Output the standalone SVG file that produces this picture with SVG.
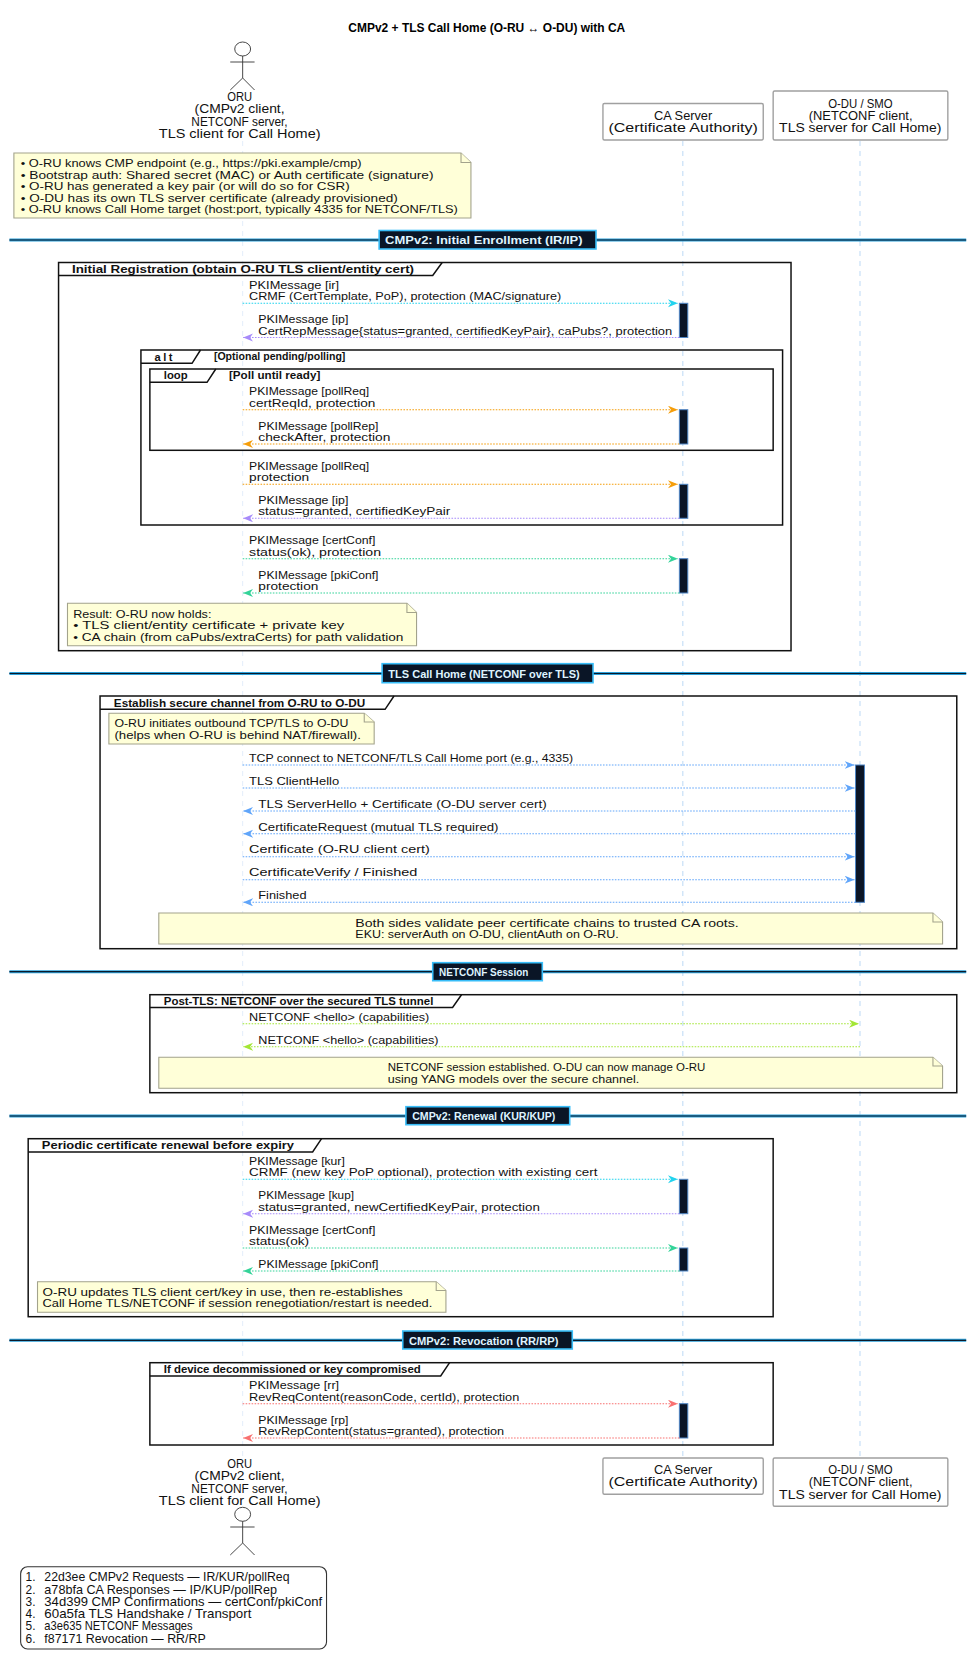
<svg xmlns="http://www.w3.org/2000/svg" width="980" height="1673" viewBox="0 0 980 1673">
<style>
text{font-family:"Liberation Sans",Arial,sans-serif;font-size:11.2px;fill:#111}
.b{font-weight:bold}
.t{font-size:12px;font-weight:bold;fill:#000}
.s{font-size:10px;font-weight:bold}
.p{font-size:12px}
.d{font-weight:bold;font-size:11.5px;fill:#dff3ff}
.life{fill:none;stroke:#bcd9f5;stroke-width:1;stroke-dasharray:5 5}
.frame{fill:none;stroke:#111;stroke-width:1.5}
.note{fill:#ffffd8;stroke:#a3a38c;stroke-width:1.1}
.box{fill:#fff;stroke:#a0a0a0;stroke-width:1.4}
.act{fill:#0b1526;stroke:#4f86c6;stroke-width:1}
.actor{fill:none;stroke:#333;stroke-width:.9}
.rule{stroke:#2b9fd8;stroke-width:3}
.core{stroke:#0b1a2a;stroke-width:1.2}
.lab{fill:#0a1526;stroke:#38bdf8;stroke-width:1.6}
.m{fill:none;stroke-width:1.1;stroke-dasharray:1.6 1.4}
.c1{stroke:#22d3ee}.c2{stroke:#a78bfa}.c3{stroke:#34d399}.c4{stroke:#60a5fa}.c5{stroke:#a3e635}.c6{stroke:#f87171}.c7{stroke:#f59e0b}
</style>
<defs>
<marker id="h1" markerUnits="userSpaceOnUse" markerWidth="11" markerHeight="9" refX="10" refY="4" orient="auto"><path d="M0 0L10 4L0 8L3 4Z" fill="#22d3ee"/></marker>
<marker id="h2" markerUnits="userSpaceOnUse" markerWidth="11" markerHeight="9" refX="10" refY="4" orient="auto"><path d="M0 0L10 4L0 8L3 4Z" fill="#a78bfa"/></marker>
<marker id="h3" markerUnits="userSpaceOnUse" markerWidth="11" markerHeight="9" refX="10" refY="4" orient="auto"><path d="M0 0L10 4L0 8L3 4Z" fill="#34d399"/></marker>
<marker id="h4" markerUnits="userSpaceOnUse" markerWidth="11" markerHeight="9" refX="10" refY="4" orient="auto"><path d="M0 0L10 4L0 8L3 4Z" fill="#60a5fa"/></marker>
<marker id="h5" markerUnits="userSpaceOnUse" markerWidth="11" markerHeight="9" refX="10" refY="4" orient="auto"><path d="M0 0L10 4L0 8L3 4Z" fill="#a3e635"/></marker>
<marker id="h6" markerUnits="userSpaceOnUse" markerWidth="11" markerHeight="9" refX="10" refY="4" orient="auto"><path d="M0 0L10 4L0 8L3 4Z" fill="#f87171"/></marker>
<marker id="h7" markerUnits="userSpaceOnUse" markerWidth="11" markerHeight="9" refX="10" refY="4" orient="auto"><path d="M0 0L10 4L0 8L3 4Z" fill="#f59e0b"/></marker>
</defs>
<rect width="980" height="1673" fill="#fff"/>
<g id="diagram" transform="scale(0.9925 1)">
<text id="title" class="t" x="351" y="32" textLength="279" lengthAdjust="spacingAndGlyphs">CMPv2 + TLS Call Home (O-RU ↔ O-DU) with CA</text>

<g id="lifelines">
<line class="life" x1="244.5" y1="141" x2="244.5" y2="1458" style="stroke:#e3eefa"/>
<line class="life" x1="688" y1="141" x2="688" y2="1458"/>
<line class="life" x1="866.5" y1="141" x2="866.5" y2="1458"/>
</g>

<g id="dividers">
<g id="div1"><line class="rule" x1="9.5" y1="240" x2="973.5" y2="240"/><line class="core" x1="9.5" y1="240" x2="973.5" y2="240"/><rect class="lab" x="382" y="230.5" width="218.5" height="18.5"/><text class="d" x="388" y="244.2" textLength="199" lengthAdjust="spacingAndGlyphs">CMPv2: Initial Enrollment (IR/IP)</text></g>
<g id="div2"><line class="rule" x1="9.5" y1="673.5" x2="973.5" y2="673.5"/><line class="core" x1="9.5" y1="673.5" x2="973.5" y2="673.5"/><rect class="lab" x="385" y="663.7" width="212.5" height="19"/><text class="d" x="391.3" y="677.6" textLength="192.8" lengthAdjust="spacingAndGlyphs">TLS Call Home (NETCONF over TLS)</text></g>
<g id="div3"><line class="rule" x1="9.5" y1="971.7" x2="973.5" y2="971.7"/><line class="core" x1="9.5" y1="971.7" x2="973.5" y2="971.7"/><rect class="lab" x="436" y="962.7" width="110.4" height="18"/><text class="d" x="442.4" y="976" textLength="90" lengthAdjust="spacingAndGlyphs">NETCONF Session</text></g>
<g id="div4"><line class="rule" x1="9.5" y1="1116" x2="973.5" y2="1116"/><line class="core" x1="9.5" y1="1116" x2="973.5" y2="1116"/><rect class="lab" x="409" y="1106.7" width="165" height="18"/><text class="d" x="415.3" y="1120.2" textLength="144.3" lengthAdjust="spacingAndGlyphs">CMPv2: Renewal (KUR/KUP)</text></g>
<g id="div5"><line class="rule" x1="9.5" y1="1340.3" x2="973.5" y2="1340.3"/><line class="core" x1="9.5" y1="1340.3" x2="973.5" y2="1340.3"/><rect class="lab" x="405.8" y="1331" width="170.8" height="18"/><text class="d" x="412" y="1344.6" textLength="150.6" lengthAdjust="spacingAndGlyphs">CMPv2: Revocation (RR/RP)</text></g>
</g>

<g id="actor-top">
<ellipse class="actor" cx="244.5" cy="49" rx="8" ry="7"/>
<path class="actor" d="M244.5 56V78M232 62H256.5M232 90L244.5 78L256.5 90"/>
<text class="p" x="229" y="101" textLength="25" lengthAdjust="spacingAndGlyphs">ORU</text>
<text class="p" x="196" y="113.3" textLength="90.7" lengthAdjust="spacingAndGlyphs">(CMPv2 client,</text>
<text class="p" x="192.8" y="125.6" textLength="97" lengthAdjust="spacingAndGlyphs">NETCONF server,</text>
<text class="p" x="160" y="138" textLength="163" lengthAdjust="spacingAndGlyphs">TLS client for Call Home)</text>
</g>
<g id="ca-top">
<rect class="box" x="607.5" y="103.5" width="161.5" height="36.5" rx="1.5"/>
<text class="p" x="659" y="120" textLength="58.6" lengthAdjust="spacingAndGlyphs">CA Server</text>
<text class="p" x="613" y="132.3" textLength="150.6" lengthAdjust="spacingAndGlyphs">(Certificate Authority)</text>
</g>
<g id="odu-top">
<rect class="box" x="779" y="91" width="176" height="49" rx="1.5"/>
<text class="p" x="834.4" y="107.6" textLength="65" lengthAdjust="spacingAndGlyphs">O-DU / SMO</text>
<text class="p" x="814.8" y="120" textLength="104.6" lengthAdjust="spacingAndGlyphs">(NETCONF client,</text>
<text class="p" x="785" y="132.3" textLength="163.5" lengthAdjust="spacingAndGlyphs">TLS server for Call Home)</text>
</g>

<g id="note-prereq">
<path class="note" d="M14 153H464.5L474.5 162.5V218H14Z"/><path class="note" d="M464.5 153V162.5H474.5"/>
<text x="20.8" y="167.5" textLength="343.5" lengthAdjust="spacingAndGlyphs">• O-RU knows CMP endpoint (e.g., https://pki.example/cmp)</text>
<text x="20.8" y="179" textLength="416" lengthAdjust="spacingAndGlyphs">• Bootstrap auth: Shared secret (MAC) or Auth certificate (signature)</text>
<text x="20.8" y="190.3" textLength="331.5" lengthAdjust="spacingAndGlyphs">• O-RU has generated a key pair (or will do so for CSR)</text>
<text x="20.8" y="201.8" textLength="380" lengthAdjust="spacingAndGlyphs">• O-DU has its own TLS server certificate (already provisioned)</text>
<text x="20.8" y="213.2" textLength="440.5" lengthAdjust="spacingAndGlyphs">• O-RU knows Call Home target (host:port, typically 4335 for NETCONF/TLS)</text>
</g>

<g id="frame-initial">
<rect class="frame" x="59" y="262.5" width="738" height="388.2"/>
<path class="frame" d="M59 275.5H436L445.5 262.5"/>
<text class="b" x="72.5" y="273" textLength="344.7" lengthAdjust="spacingAndGlyphs">Initial Registration (obtain O-RU TLS client/entity cert)</text>
</g>
<g id="frame-alt">
<rect class="frame" x="142" y="350" width="646.5" height="175"/>
<path class="frame" d="M142 363.3H193.5L202 350"/>
<text class="b" x="155.7" y="360.7" textLength="18" lengthAdjust="spacing">alt</text>
<text class="s" x="215.5" y="360" textLength="132.5" lengthAdjust="spacingAndGlyphs">[Optional pending/polling]</text>
</g>
<g id="frame-loop">
<rect class="frame" x="151" y="369" width="628" height="81.3"/>
<path class="frame" d="M151 382.3H208.6L217.4 369"/>
<text class="b" x="165" y="379.3" textLength="24" lengthAdjust="spacingAndGlyphs">loop</text>
<text class="s" x="230.7" y="378.7" textLength="92" lengthAdjust="spacingAndGlyphs">[Poll until ready]</text>
</g>
<g id="note-result">
<path class="note" d="M68 603.3H410L419.7 612.5V645.7H68Z"/><path class="note" d="M410 603.3V612.5H419.7"/>
<text x="73.7" y="617.7" textLength="139.3" lengthAdjust="spacingAndGlyphs">Result: O-RU now holds:</text>
<text x="73.7" y="629.3" textLength="273" lengthAdjust="spacingAndGlyphs">• TLS client/entity certificate + private key</text>
<text x="73.7" y="640.7" textLength="332.7" lengthAdjust="spacingAndGlyphs">• CA chain (from caPubs/extraCerts) for path validation</text>
</g>

<g id="frame-tls">
<rect class="frame" x="100.8" y="696" width="863.2" height="252.7"/>
<path class="frame" d="M100.8 709.3H388L397 696"/>
<text class="b" x="114.7" y="706.7" textLength="253.3" lengthAdjust="spacingAndGlyphs">Establish secure channel from O-RU to O-DU</text>
</g>
<g id="note-callhome">
<path class="note" d="M109.7 713.3H367L377 722V744H109.7Z"/><path class="note" d="M367 713.3V722H377"/>
<text x="115.3" y="727.3" textLength="235.7" lengthAdjust="spacingAndGlyphs">O-RU initiates outbound TCP/TLS to O-DU</text>
<text x="115.3" y="738.7" textLength="248.3" lengthAdjust="spacingAndGlyphs">(helps when O-RU is behind NAT/firewall).</text>
</g>
<g id="note-validate">
<path class="note" d="M160 913H940L949.7 922V944H160Z"/><path class="note" d="M940 913V922H949.7"/>
<text x="358" y="927" textLength="386.3" lengthAdjust="spacingAndGlyphs">Both sides validate peer certificate chains to trusted CA roots.</text>
<text x="358" y="938.3" textLength="265.3" lengthAdjust="spacingAndGlyphs">EKU: serverAuth on O-DU, clientAuth on O-RU.</text>
</g>

<g id="frame-netconf">
<rect class="frame" x="151" y="994.7" width="813" height="98"/>
<path class="frame" d="M151 1007.5H456L465 994.7"/>
<text class="b" x="165" y="1004.7" textLength="271.6" lengthAdjust="spacingAndGlyphs">Post-TLS: NETCONF over the secured TLS tunnel</text>
</g>
<g id="note-session">
<path class="note" d="M160 1057.3H940L949.7 1066V1088.3H160Z"/><path class="note" d="M940 1057.3V1066H949.7"/>
<text x="390.7" y="1071.3" textLength="320" lengthAdjust="spacingAndGlyphs">NETCONF session established. O-DU can now manage O-RU</text>
<text x="390.7" y="1082.7" textLength="253.3" lengthAdjust="spacingAndGlyphs">using YANG models over the secure channel.</text>
</g>

<g id="frame-renewal">
<rect class="frame" x="28.4" y="1138.7" width="750.6" height="178"/>
<path class="frame" d="M28.4 1152H315L324 1138.7"/>
<text class="b" x="42.2" y="1149" textLength="254" lengthAdjust="spacingAndGlyphs">Periodic certificate renewal before expiry</text>
</g>
<g id="note-renewal">
<path class="note" d="M37.8 1281.7H439.5L449.3 1290.5V1312.3H37.8Z"/><path class="note" d="M439.5 1281.7V1290.5H449.3"/>
<text x="42.9" y="1296" textLength="363" lengthAdjust="spacingAndGlyphs">O-RU updates TLS client cert/key in use, then re-establishes</text>
<text x="42.9" y="1307.3" textLength="392.6" lengthAdjust="spacingAndGlyphs">Call Home TLS/NETCONF if session renegotiation/restart is needed.</text>
</g>

<g id="frame-revocation">
<rect class="frame" x="151" y="1362.7" width="628" height="82.3"/>
<path class="frame" d="M151 1376H444L453 1362.7"/>
<text class="b" x="165" y="1373.3" textLength="259" lengthAdjust="spacingAndGlyphs">If device decommissioned or key compromised</text>
</g>

<g id="activations">
<rect class="act" x="684.5" y="303.3" width="8.5" height="34.2"/>
<rect class="act" x="684.5" y="409.7" width="8.5" height="34.3"/>
<rect class="act" x="684.5" y="484.3" width="8.5" height="34"/>
<rect class="act" x="684.5" y="558.7" width="8.5" height="34.3"/>
<rect class="act" x="862" y="765" width="9" height="137.3"/>
<rect class="act" x="684.5" y="1179.3" width="8.5" height="34.4"/>
<rect class="act" x="684.5" y="1248" width="8.5" height="23"/>
<rect class="act" x="684.5" y="1403.7" width="8.5" height="34.3"/>
</g>

<g id="connectors">
<line class="m c1" x1="244.5" y1="303.3" x2="683" y2="303.3" marker-end="url(#h1)"/>
<line class="m c2" x1="684.5" y1="337.5" x2="245" y2="337.5" marker-end="url(#h2)"/>
<line class="m c7" x1="244.5" y1="409.7" x2="683" y2="409.7" marker-end="url(#h7)"/>
<line class="m c7" x1="684.5" y1="444" x2="245" y2="444" marker-end="url(#h7)"/>
<line class="m c7" x1="244.5" y1="484.3" x2="683" y2="484.3" marker-end="url(#h7)"/>
<line class="m c2" x1="684.5" y1="518.3" x2="245" y2="518.3" marker-end="url(#h2)"/>
<line class="m c3" x1="244.5" y1="558.7" x2="683" y2="558.7" marker-end="url(#h3)"/>
<line class="m c3" x1="684.5" y1="593" x2="245" y2="593" marker-end="url(#h3)"/>
<line class="m c4" x1="244.5" y1="765" x2="861" y2="765" marker-end="url(#h4)"/>
<line class="m c4" x1="244.5" y1="788" x2="861" y2="788" marker-end="url(#h4)"/>
<line class="m c4" x1="862" y1="811" x2="245" y2="811" marker-end="url(#h4)"/>
<line class="m c4" x1="862" y1="833.7" x2="245" y2="833.7" marker-end="url(#h4)"/>
<line class="m c4" x1="244.5" y1="856.7" x2="861" y2="856.7" marker-end="url(#h4)"/>
<line class="m c4" x1="244.5" y1="879.7" x2="861" y2="879.7" marker-end="url(#h4)"/>
<line class="m c4" x1="862" y1="902.3" x2="245" y2="902.3" marker-end="url(#h4)"/>
<line class="m c5" x1="244.5" y1="1023.7" x2="865.5" y2="1023.7" marker-end="url(#h5)"/>
<line class="m c5" x1="866.5" y1="1046.7" x2="245" y2="1046.7" marker-end="url(#h5)"/>
<line class="m c1" x1="244.5" y1="1179.3" x2="683" y2="1179.3" marker-end="url(#h1)"/>
<line class="m c2" x1="684.5" y1="1213.7" x2="245" y2="1213.7" marker-end="url(#h2)"/>
<line class="m c3" x1="244.5" y1="1248" x2="683" y2="1248" marker-end="url(#h3)"/>
<line class="m c3" x1="684.5" y1="1271" x2="245" y2="1271" marker-end="url(#h3)"/>
<line class="m c6" x1="244.5" y1="1403.7" x2="683" y2="1403.7" marker-end="url(#h6)"/>
<line class="m c6" x1="684.5" y1="1438" x2="245" y2="1438" marker-end="url(#h6)"/>
</g>

<g id="message-labels">
<text x="251" y="288.7" textLength="90.7" lengthAdjust="spacingAndGlyphs">PKIMessage [ir]</text>
<text x="251" y="300" textLength="314.5" lengthAdjust="spacingAndGlyphs">CRMF (CertTemplate, PoP), protection (MAC/signature)</text>
<text x="260.3" y="323.5" textLength="90.7" lengthAdjust="spacingAndGlyphs">PKIMessage [ip]</text>
<text x="260.3" y="334.7" textLength="417" lengthAdjust="spacingAndGlyphs">CertRepMessage{status=granted, certifiedKeyPair}, caPubs?, protection</text>
<text x="251" y="395.3" textLength="121" lengthAdjust="spacingAndGlyphs">PKIMessage [pollReq]</text>
<text x="251" y="406.7" textLength="127.3" lengthAdjust="spacingAndGlyphs">certReqId, protection</text>
<text x="260.3" y="429.7" textLength="121" lengthAdjust="spacingAndGlyphs">PKIMessage [pollRep]</text>
<text x="260.3" y="440.9" textLength="133" lengthAdjust="spacingAndGlyphs">checkAfter, protection</text>
<text x="251" y="469.7" textLength="121" lengthAdjust="spacingAndGlyphs">PKIMessage [pollReq]</text>
<text x="251" y="481" textLength="60.5" lengthAdjust="spacingAndGlyphs">protection</text>
<text x="260.3" y="504" textLength="90.7" lengthAdjust="spacingAndGlyphs">PKIMessage [ip]</text>
<text x="260.3" y="515.3" textLength="193.5" lengthAdjust="spacingAndGlyphs">status=granted, certifiedKeyPair</text>
<text x="251" y="544.3" textLength="127.3" lengthAdjust="spacingAndGlyphs">PKIMessage [certConf]</text>
<text x="251" y="555.7" textLength="133" lengthAdjust="spacingAndGlyphs">status(ok), protection</text>
<text x="260.3" y="578.7" textLength="121" lengthAdjust="spacingAndGlyphs">PKIMessage [pkiConf]</text>
<text x="260.3" y="590" textLength="60.5" lengthAdjust="spacingAndGlyphs">protection</text>
<text x="251" y="761.7" textLength="326.4" lengthAdjust="spacingAndGlyphs">TCP connect to NETCONF/TLS Call Home port (e.g., 4335)</text>
<text x="251" y="784.7" textLength="90.7" lengthAdjust="spacingAndGlyphs">TLS ClientHello</text>
<text x="260.3" y="807.7" textLength="290.5" lengthAdjust="spacingAndGlyphs">TLS ServerHello + Certificate (O-DU server cert)</text>
<text x="260.3" y="830.7" textLength="242" lengthAdjust="spacingAndGlyphs">CertificateRequest (mutual TLS required)</text>
<text x="251" y="853.3" textLength="182" lengthAdjust="spacingAndGlyphs">Certificate (O-RU client cert)</text>
<text x="251" y="876.3" textLength="169.5" lengthAdjust="spacingAndGlyphs">CertificateVerify / Finished</text>
<text x="260.3" y="899.3" textLength="48.5" lengthAdjust="spacingAndGlyphs">Finished</text>
<text x="251" y="1020.7" textLength="181.5" lengthAdjust="spacingAndGlyphs">NETCONF &lt;hello&gt; (capabilities)</text>
<text x="260.3" y="1043.7" textLength="181.5" lengthAdjust="spacingAndGlyphs">NETCONF &lt;hello&gt; (capabilities)</text>
<text x="251" y="1165" textLength="96.4" lengthAdjust="spacingAndGlyphs">PKIMessage [kur]</text>
<text x="251" y="1176.3" textLength="351" lengthAdjust="spacingAndGlyphs">CRMF (new key PoP optional), protection with existing cert</text>
<text x="260.3" y="1199.3" textLength="96.4" lengthAdjust="spacingAndGlyphs">PKIMessage [kup]</text>
<text x="260.3" y="1210.7" textLength="283.6" lengthAdjust="spacingAndGlyphs">status=granted, newCertifiedKeyPair, protection</text>
<text x="251" y="1233.7" textLength="127.3" lengthAdjust="spacingAndGlyphs">PKIMessage [certConf]</text>
<text x="251" y="1245" textLength="60.5" lengthAdjust="spacingAndGlyphs">status(ok)</text>
<text x="260.3" y="1267.7" textLength="121" lengthAdjust="spacingAndGlyphs">PKIMessage [pkiConf]</text>
<text x="251" y="1389.3" textLength="90.7" lengthAdjust="spacingAndGlyphs">PKIMessage [rr]</text>
<text x="251" y="1400.7" textLength="272.2" lengthAdjust="spacingAndGlyphs">RevReqContent(reasonCode, certId), protection</text>
<text x="260.3" y="1423.7" textLength="90.7" lengthAdjust="spacingAndGlyphs">PKIMessage [rp]</text>
<text x="260.3" y="1435" textLength="247.7" lengthAdjust="spacingAndGlyphs">RevRepContent(status=granted), protection</text>
</g>

<g id="actor-bottom">
<text class="p" x="229" y="1468" textLength="25" lengthAdjust="spacingAndGlyphs">ORU</text>
<text class="p" x="196" y="1480.3" textLength="90.7" lengthAdjust="spacingAndGlyphs">(CMPv2 client,</text>
<text class="p" x="192.8" y="1492.6" textLength="97" lengthAdjust="spacingAndGlyphs">NETCONF server,</text>
<text class="p" x="160" y="1505" textLength="163" lengthAdjust="spacingAndGlyphs">TLS client for Call Home)</text>
<ellipse class="actor" cx="244.5" cy="1514.3" rx="8" ry="7"/>
<path class="actor" d="M244.5 1521.3V1543M232 1527H256.5M232 1555L244.5 1543L256.5 1555"/>
</g>
<g id="ca-bottom">
<rect class="box" x="607.5" y="1458" width="161.5" height="36.3" rx="1.5"/>
<text class="p" x="659" y="1474" textLength="58.6" lengthAdjust="spacingAndGlyphs">CA Server</text>
<text class="p" x="613" y="1486.3" textLength="150.6" lengthAdjust="spacingAndGlyphs">(Certificate Authority)</text>
</g>
<g id="odu-bottom">
<rect class="box" x="779" y="1458" width="176" height="48.3" rx="1.5"/>
<text class="p" x="834.4" y="1474" textLength="65" lengthAdjust="spacingAndGlyphs">O-DU / SMO</text>
<text class="p" x="814.8" y="1486.3" textLength="104.6" lengthAdjust="spacingAndGlyphs">(NETCONF client,</text>
<text class="p" x="785" y="1498.6" textLength="163.5" lengthAdjust="spacingAndGlyphs">TLS server for Call Home)</text>
</g>

<g id="legend">
<rect x="20.8" y="1566.7" width="308.2" height="82.3" rx="7" fill="#fff" stroke="#333" stroke-width="1.1"/>
<text class="p" x="25.8" y="1581.5">1.</text><text class="p" x="44.7" y="1581.5" textLength="247" lengthAdjust="spacingAndGlyphs">22d3ee CMPv2 Requests — IR/KUR/pollReq</text>
<text class="p" x="25.8" y="1593.8">2.</text><text class="p" x="44.7" y="1593.8" textLength="234.4" lengthAdjust="spacingAndGlyphs">a78bfa CA Responses — IP/KUP/pollRep</text>
<text class="p" x="25.8" y="1606">3.</text><text class="p" x="44.7" y="1606" textLength="279.8" lengthAdjust="spacingAndGlyphs">34d399 CMP Confirmations — certConf/pkiConf</text>
<text class="p" x="25.8" y="1618.3">4.</text><text class="p" x="44.7" y="1618.3" textLength="208.6" lengthAdjust="spacingAndGlyphs">60a5fa TLS Handshake / Transport</text>
<text class="p" x="25.8" y="1630.5">5.</text><text class="p" x="44.7" y="1630.5" textLength="149.4" lengthAdjust="spacingAndGlyphs">a3e635 NETCONF Messages</text>
<text class="p" x="25.8" y="1642.8">6.</text><text class="p" x="44.7" y="1642.8" textLength="162.6" lengthAdjust="spacingAndGlyphs">f87171 Revocation — RR/RP</text>
</g>
</g>
</svg>
